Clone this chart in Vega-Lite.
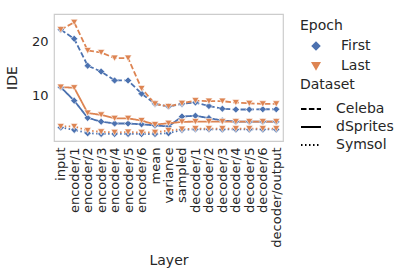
{
  "$schema": "https://vega.github.io/schema/vega-lite/v6.json",
  "width": 229,
  "height": 127,
  "padding": {"left": 5, "top": 14, "right": 5, "bottom": 5},
  "background": "white",
  "config": {
    "font": "DejaVu Sans",
    "view": {"stroke": "#cccccc", "strokeWidth": 1.2},
    "axis": {"grid": false, "domain": false, "ticks": false, "labelFontSize": 13, "titleFontSize": 14, "labelColor": "#262626", "titleColor": "#262626", "titleFontWeight": "normal", "labelPadding": 6},
    "legend": {"labelFontSize": 14, "titleFontSize": 14, "titleFontWeight": "normal", "titleColor": "#262626", "labelColor": "#262626", "rowPadding": 6, "titlePadding": 6}
  },
  "data": {"values": [
    {"Layer":"input","Epoch":"First","Dataset":"Celeba","IDE":22.3},
    {"Layer":"encoder/1","Epoch":"First","Dataset":"Celeba","IDE":20.6},
    {"Layer":"encoder/2","Epoch":"First","Dataset":"Celeba","IDE":15.6},
    {"Layer":"encoder/3","Epoch":"First","Dataset":"Celeba","IDE":14.5},
    {"Layer":"encoder/4","Epoch":"First","Dataset":"Celeba","IDE":12.85},
    {"Layer":"encoder/5","Epoch":"First","Dataset":"Celeba","IDE":12.85},
    {"Layer":"encoder/6","Epoch":"First","Dataset":"Celeba","IDE":10.4},
    {"Layer":"mean","Epoch":"First","Dataset":"Celeba","IDE":8.5},
    {"Layer":"variance","Epoch":"First","Dataset":"Celeba","IDE":8.0},
    {"Layer":"sampled","Epoch":"First","Dataset":"Celeba","IDE":8.5},
    {"Layer":"decoder/1","Epoch":"First","Dataset":"Celeba","IDE":8.75},
    {"Layer":"decoder/2","Epoch":"First","Dataset":"Celeba","IDE":8.1},
    {"Layer":"decoder/3","Epoch":"First","Dataset":"Celeba","IDE":7.6},
    {"Layer":"decoder/4","Epoch":"First","Dataset":"Celeba","IDE":7.45},
    {"Layer":"decoder/5","Epoch":"First","Dataset":"Celeba","IDE":7.45},
    {"Layer":"decoder/6","Epoch":"First","Dataset":"Celeba","IDE":7.5},
    {"Layer":"decoder/output","Epoch":"First","Dataset":"Celeba","IDE":7.5},
    {"Layer":"input","Epoch":"First","Dataset":"dSprites","IDE":11.6},
    {"Layer":"encoder/1","Epoch":"First","Dataset":"dSprites","IDE":9.1},
    {"Layer":"encoder/2","Epoch":"First","Dataset":"dSprites","IDE":5.9},
    {"Layer":"encoder/3","Epoch":"First","Dataset":"dSprites","IDE":5.2},
    {"Layer":"encoder/4","Epoch":"First","Dataset":"dSprites","IDE":4.85},
    {"Layer":"encoder/5","Epoch":"First","Dataset":"dSprites","IDE":4.85},
    {"Layer":"encoder/6","Epoch":"First","Dataset":"dSprites","IDE":4.7},
    {"Layer":"mean","Epoch":"First","Dataset":"dSprites","IDE":4.5},
    {"Layer":"variance","Epoch":"First","Dataset":"dSprites","IDE":4.3},
    {"Layer":"sampled","Epoch":"First","Dataset":"dSprites","IDE":6.15},
    {"Layer":"decoder/1","Epoch":"First","Dataset":"dSprites","IDE":6.3},
    {"Layer":"decoder/2","Epoch":"First","Dataset":"dSprites","IDE":5.85},
    {"Layer":"decoder/3","Epoch":"First","Dataset":"dSprites","IDE":5.4},
    {"Layer":"decoder/4","Epoch":"First","Dataset":"dSprites","IDE":5.2},
    {"Layer":"decoder/5","Epoch":"First","Dataset":"dSprites","IDE":5.2},
    {"Layer":"decoder/6","Epoch":"First","Dataset":"dSprites","IDE":5.2},
    {"Layer":"decoder/output","Epoch":"First","Dataset":"dSprites","IDE":5.2},
    {"Layer":"input","Epoch":"First","Dataset":"Symsol","IDE":4.1},
    {"Layer":"encoder/1","Epoch":"First","Dataset":"Symsol","IDE":3.67},
    {"Layer":"encoder/2","Epoch":"First","Dataset":"Symsol","IDE":3.05},
    {"Layer":"encoder/3","Epoch":"First","Dataset":"Symsol","IDE":2.92},
    {"Layer":"encoder/4","Epoch":"First","Dataset":"Symsol","IDE":2.92},
    {"Layer":"encoder/5","Epoch":"First","Dataset":"Symsol","IDE":2.92},
    {"Layer":"encoder/6","Epoch":"First","Dataset":"Symsol","IDE":2.9},
    {"Layer":"mean","Epoch":"First","Dataset":"Symsol","IDE":2.9},
    {"Layer":"variance","Epoch":"First","Dataset":"Symsol","IDE":3.05},
    {"Layer":"sampled","Epoch":"First","Dataset":"Symsol","IDE":3.67},
    {"Layer":"decoder/1","Epoch":"First","Dataset":"Symsol","IDE":3.78},
    {"Layer":"decoder/2","Epoch":"First","Dataset":"Symsol","IDE":3.78},
    {"Layer":"decoder/3","Epoch":"First","Dataset":"Symsol","IDE":3.75},
    {"Layer":"decoder/4","Epoch":"First","Dataset":"Symsol","IDE":3.75},
    {"Layer":"decoder/5","Epoch":"First","Dataset":"Symsol","IDE":3.75},
    {"Layer":"decoder/6","Epoch":"First","Dataset":"Symsol","IDE":3.75},
    {"Layer":"decoder/output","Epoch":"First","Dataset":"Symsol","IDE":3.75},
    {"Layer":"input","Epoch":"Last","Dataset":"Celeba","IDE":22.3},
    {"Layer":"encoder/1","Epoch":"Last","Dataset":"Celeba","IDE":23.65},
    {"Layer":"encoder/2","Epoch":"Last","Dataset":"Celeba","IDE":18.4},
    {"Layer":"encoder/3","Epoch":"Last","Dataset":"Celeba","IDE":18.05},
    {"Layer":"encoder/4","Epoch":"Last","Dataset":"Celeba","IDE":17.0},
    {"Layer":"encoder/5","Epoch":"Last","Dataset":"Celeba","IDE":17.0},
    {"Layer":"encoder/6","Epoch":"Last","Dataset":"Celeba","IDE":11.35},
    {"Layer":"mean","Epoch":"Last","Dataset":"Celeba","IDE":8.5},
    {"Layer":"variance","Epoch":"Last","Dataset":"Celeba","IDE":8.0},
    {"Layer":"sampled","Epoch":"Last","Dataset":"Celeba","IDE":8.6},
    {"Layer":"decoder/1","Epoch":"Last","Dataset":"Celeba","IDE":9.1},
    {"Layer":"decoder/2","Epoch":"Last","Dataset":"Celeba","IDE":9.0},
    {"Layer":"decoder/3","Epoch":"Last","Dataset":"Celeba","IDE":9.0},
    {"Layer":"decoder/4","Epoch":"Last","Dataset":"Celeba","IDE":8.75},
    {"Layer":"decoder/5","Epoch":"Last","Dataset":"Celeba","IDE":8.6},
    {"Layer":"decoder/6","Epoch":"Last","Dataset":"Celeba","IDE":8.5},
    {"Layer":"decoder/output","Epoch":"Last","Dataset":"Celeba","IDE":8.5},
    {"Layer":"input","Epoch":"Last","Dataset":"dSprites","IDE":11.6},
    {"Layer":"encoder/1","Epoch":"Last","Dataset":"dSprites","IDE":11.5},
    {"Layer":"encoder/2","Epoch":"Last","Dataset":"dSprites","IDE":6.8},
    {"Layer":"encoder/3","Epoch":"Last","Dataset":"dSprites","IDE":6.45},
    {"Layer":"encoder/4","Epoch":"Last","Dataset":"dSprites","IDE":5.8},
    {"Layer":"encoder/5","Epoch":"Last","Dataset":"dSprites","IDE":5.8},
    {"Layer":"encoder/6","Epoch":"Last","Dataset":"dSprites","IDE":5.4},
    {"Layer":"mean","Epoch":"Last","Dataset":"dSprites","IDE":4.65},
    {"Layer":"variance","Epoch":"Last","Dataset":"dSprites","IDE":4.9},
    {"Layer":"sampled","Epoch":"Last","Dataset":"dSprites","IDE":5.15},
    {"Layer":"decoder/1","Epoch":"Last","Dataset":"dSprites","IDE":5.2},
    {"Layer":"decoder/2","Epoch":"Last","Dataset":"dSprites","IDE":5.2},
    {"Layer":"decoder/3","Epoch":"Last","Dataset":"dSprites","IDE":5.2},
    {"Layer":"decoder/4","Epoch":"Last","Dataset":"dSprites","IDE":5.2},
    {"Layer":"decoder/5","Epoch":"Last","Dataset":"dSprites","IDE":5.2},
    {"Layer":"decoder/6","Epoch":"Last","Dataset":"dSprites","IDE":5.2},
    {"Layer":"decoder/output","Epoch":"Last","Dataset":"dSprites","IDE":5.2},
    {"Layer":"input","Epoch":"Last","Dataset":"Symsol","IDE":4.3},
    {"Layer":"encoder/1","Epoch":"Last","Dataset":"Symsol","IDE":4.3},
    {"Layer":"encoder/2","Epoch":"Last","Dataset":"Symsol","IDE":3.55},
    {"Layer":"encoder/3","Epoch":"Last","Dataset":"Symsol","IDE":3.3},
    {"Layer":"encoder/4","Epoch":"Last","Dataset":"Symsol","IDE":3.2},
    {"Layer":"encoder/5","Epoch":"Last","Dataset":"Symsol","IDE":3.25},
    {"Layer":"encoder/6","Epoch":"Last","Dataset":"Symsol","IDE":3.2},
    {"Layer":"mean","Epoch":"Last","Dataset":"Symsol","IDE":3.2},
    {"Layer":"variance","Epoch":"Last","Dataset":"Symsol","IDE":3.55},
    {"Layer":"sampled","Epoch":"Last","Dataset":"Symsol","IDE":3.8},
    {"Layer":"decoder/1","Epoch":"Last","Dataset":"Symsol","IDE":3.9},
    {"Layer":"decoder/2","Epoch":"Last","Dataset":"Symsol","IDE":3.9},
    {"Layer":"decoder/3","Epoch":"Last","Dataset":"Symsol","IDE":3.9},
    {"Layer":"decoder/4","Epoch":"Last","Dataset":"Symsol","IDE":3.9},
    {"Layer":"decoder/5","Epoch":"Last","Dataset":"Symsol","IDE":3.9},
    {"Layer":"decoder/6","Epoch":"Last","Dataset":"Symsol","IDE":3.9},
    {"Layer":"decoder/output","Epoch":"Last","Dataset":"Symsol","IDE":3.9}
  ]},
  "encoding": {
    "x": {"field": "Layer", "type": "ordinal", "sort": null, "scale": {"type": "point", "padding": 0.5}, "axis": {"labelAngle": -90, "title": "Layer", "titlePadding": 6}},
    "y": {"field": "IDE", "type": "quantitative", "scale": {"domain": [1.6, 25.2], "nice": false, "zero": false}, "axis": {"values": [10, 20], "title": "IDE", "titlePadding": 12}},
    "color": {"field": "Epoch", "type": "nominal", "scale": {"domain": ["First", "Last"], "range": ["#4c72b0", "#dd8452"]}, "legend": {"title": "Epoch", "orient": "none", "legendX": 246, "legendY": 5, "symbolSize": 55, "symbolOffset": 9, "labelOffset": 18}},
    "order": {"field": "Epoch"}
  },
  "layer": [
    {
      "mark": {"type": "line", "strokeWidth": 1.8},
      "encoding": {
        "detail": {"field": "Epoch"},
        "strokeDash": {"field": "Dataset", "type": "nominal", "scale": {"domain": ["Celeba", "dSprites", "Symsol"], "range": [[5.5, 2.4], [1, 0], [1.5, 2.5]]}, "legend": {"title": "Dataset", "orient": "none", "legendX": 246, "legendY": 64, "symbolType": "stroke", "symbolStrokeColor": "black", "symbolStrokeWidth": 1.8, "symbolSize": 400, "symbolOffset": 0, "labelOffset": 14, "rowPadding": 0, "titlePadding": 6}}
      }
    },
    {
      "mark": {"type": "point", "filled": true, "opacity": 1, "size": 50, "stroke": "white", "strokeWidth": 0.6},
      "encoding": {
        "shape": {"field": "Epoch", "type": "nominal", "scale": {"domain": ["First", "Last"], "range": ["diamond", "triangle-down"]}, "legend": {"title": "Epoch"}}
      }
    }
  ]
}
